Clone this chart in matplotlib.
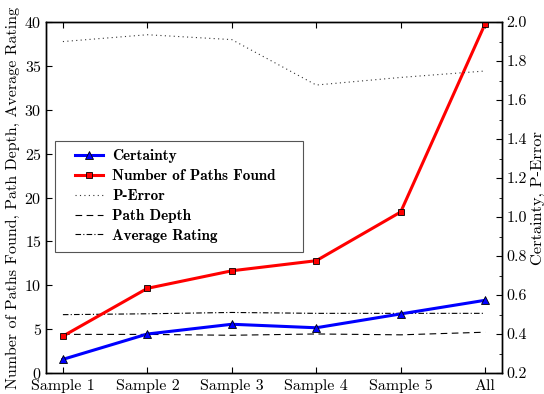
import matplotlib
matplotlib.use("Agg")
import matplotlib.pyplot as plt
from matplotlib.lines import Line2D
from matplotlib.patches import Rectangle
from matplotlib.ticker import MultipleLocator

plt.rcParams['font.family'] = 'cmr10'
plt.rcParams['mathtext.fontset'] = 'cm'
plt.rcParams['axes.formatter.use_mathtext'] = True

categories = ["Sample 1", "Sample 2", "Sample 3", "Sample 4", "Sample 5", "All"]
paths_found = [4.2, 9.65, 11.65, 12.8, 18.35, 39.8]
path_depth = [4.4, 4.4, 4.3, 4.45, 4.35, 4.65]
avg_rating = [6.65, 6.75, 6.9, 6.8, 6.8, 6.8]
certainty = [0.27, 0.40, 0.45, 0.432, 0.503, 0.573]
p_error = [1.90, 1.935, 1.91, 1.677, 1.716, 1.749]

x = list(range(len(categories)))

fig = plt.figure(figsize=(5.44, 3.94), dpi=100)
ax1 = fig.add_axes([0.0846, 0.0533, 0.8382, 0.8907])
ax2 = ax1.twinx()

ax1.plot(x, path_depth, color='black', lw=0.8, ls=(0, (6, 4)))
ax1.plot(x, avg_rating, color='black', lw=0.8, ls=(0, (5, 2, 1, 2)))
ax1.plot(x, paths_found, color='red', lw=2.2, marker='s', ms=5,
         mfc='red', mec='black', mew=0.6, zorder=3)
ax2.plot(x, p_error, color='#333333', lw=0.8, ls=(0, (1, 3)))
ax2.plot(x, certainty, color='blue', lw=2.2, marker='^', ms=5.5,
         mfc='blue', mec='black', mew=0.6, zorder=3)

ax1.set_xlim(-0.2, 5.2)
ax1.set_ylim(0, 40)
ax2.set_ylim(0.2, 2.0)
ax1.set_xticks(x)
ax1.set_xticklabels(categories)
ax1.yaxis.set_major_locator(MultipleLocator(5))
ax2.yaxis.set_major_locator(MultipleLocator(0.2))
ax2.yaxis.set_minor_locator(MultipleLocator(0.1))
ax2.yaxis.set_major_formatter(matplotlib.ticker.FormatStrFormatter('%.1f'))

ax1.tick_params(axis='both', direction='in', labelsize=11.5, top=True, length=4)
ax1.tick_params(axis='x', pad=4.5)
ax1.tick_params(axis='y', pad=3)
ax2.tick_params(axis='y', direction='in', labelsize=11.5, length=4, pad=3)
ax2.tick_params(axis='y', which='minor', direction='in', length=2.5)

ax1.set_ylabel("Number of Paths Found, Path Depth, Average Rating", fontsize=11.5, labelpad=3)
ax2.set_ylabel("Certainty, P-Error", fontsize=11.8, labelpad=3)

for ax in (ax1, ax2):
    for s in ax.spines.values():
        s.set_linewidth(1.0)

# legend frame
ax2.add_patch(Rectangle((0.0197, 0.3447), 0.5439, 0.3163, transform=ax2.transAxes,
                        facecolor='white', edgecolor='#555555', lw=0.8, zorder=4))

handles = [
    Line2D([], [], color='blue', lw=2.2, marker='^', ms=5.5, mfc='blue', mec='black', mew=0.6),
    Line2D([], [], color='red', lw=2.2, marker='s', ms=5, mfc='red', mec='black', mew=0.6),
    Line2D([], [], color='#333333', lw=0.8, ls=(0, (1, 3))),
    Line2D([], [], color='black', lw=0.8, ls=(0, (6, 4))),
    Line2D([], [], color='black', lw=0.8, ls=(0, (5, 2, 1, 2))),
]
labels = ["Certainty", "Number of Paths Found", "P-Error", "Path Depth", "Average Rating"]
leg = ax2.legend(handles, labels, loc='upper left', bbox_to_anchor=(0.0636, 0.637),
                 prop={'family': 'cmb10', 'size': 11}, frameon=False,
                 borderpad=0, labelspacing=0.38, handlelength=1.85,
                 borderaxespad=0, handletextpad=0.6)
leg.set_zorder(5)

fig.savefig("out.png", dpi=100)
